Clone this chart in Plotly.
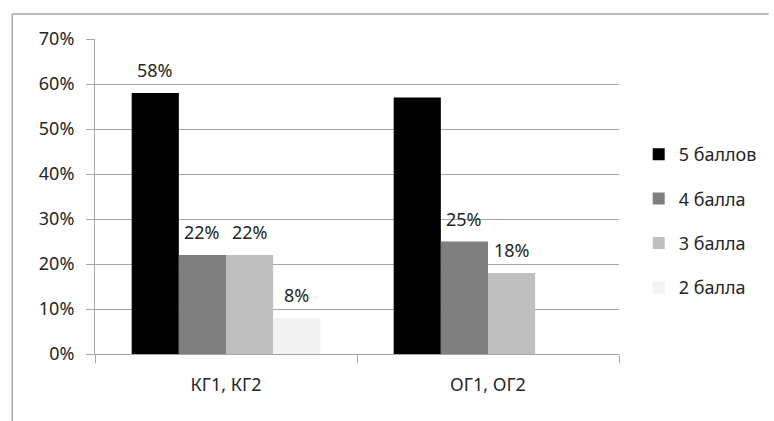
import plotly.graph_objects as go

# Groups and score distribution (share of students)
groups = ["КГ1, КГ2", "ОГ1, ОГ2"]
series_names = ["5 баллов", "4 балла", "3 балла", "2 балла"]
score5 = [0.58, 0.57]
score4 = [0.22, 0.25]
score3 = [0.22, 0.18]
score2 = [0.08, None]
# which bars carry a value label
show5 = [True, False]
show4 = [True, True]
show3 = [True, True]
show2 = [True, False]

y_ticks = [0, 0.1, 0.2, 0.3, 0.4, 0.5, 0.6, 0.7]

colors = ["#000000", "#7f7f7f", "#bfbfbf", "#f2f2f2"]
series = [score5, score4, score3, score2]
shows = [show5, show4, show3, show2]

FONT = "Noto Sans"
FS = 18
TXT = "#262626"
GRID = "#a6a6a6"
BARGAP = 0.28

fig = go.Figure()
for k, (name, vals, col) in enumerate(zip(series_names, series, colors)):
    fig.add_trace(go.Bar(
        x=groups, y=vals, name=name,
        marker=dict(color=col, line=dict(width=0)),
        legendgroup=f"g{k}",
    ))

# value labels above the bars, placed on the bars' own group offsets
n = len(series)
bw = (1 - BARGAP) / n
annotations = []
for k, (vals, show) in enumerate(zip(series, shows)):
    for i, (v, s) in enumerate(zip(vals, show)):
        if v is None or not s:
            continue
        xc = i - (1 - BARGAP) / 2 + (k + 0.5) * bw
        annotations.append(dict(
            x=xc, y=v, xref="x", yref="y",
            text=f"{round(v * 100)}%", showarrow=False,
            yanchor="bottom", yshift=9,
            font=dict(family=FONT, size=FS, color=TXT),
        ))

# outer chart frame (top and left edges)
L, R, T, B = 95, 627, 39, 354
W, H = 774, 421
def px(xp):
    return (xp - L) / (R - L)
def py(yp):
    return (B - yp) / (B - T)

shapes = [
    dict(type="line", xref="paper", yref="paper",
         x0=px(11), x1=px(W + 5), y0=py(14), y1=py(14),
         line=dict(color="#a6a6a6", width=1.5)),
    dict(type="line", xref="paper", yref="paper",
         x0=px(11), x1=px(11), y0=py(14), y1=py(H + 5),
         line=dict(color="#a6a6a6", width=1.5)),
]

fig.update_layout(
    width=W, height=H,
    margin=dict(l=L, r=W - R, t=T, b=H - B, pad=0),
    paper_bgcolor="white", plot_bgcolor="white",
    barmode="group", bargap=BARGAP, bargroupgap=0,
    font=dict(family=FONT, size=FS, color=TXT),
    annotations=annotations,
    shapes=shapes,
    legend=dict(
        x=px(647), xanchor="left", y=py(221), yanchor="middle",
        font=dict(family=FONT, size=FS, color=TXT),
        tracegroupgap=18, traceorder="grouped",
        bgcolor="rgba(0,0,0,0)",
    ),
    showlegend=True,
)
fig.update_xaxes(
    type="category", tickson="boundaries",
    ticks="outside", ticklen=8, tickcolor=GRID,
    showline=True, linecolor=GRID, linewidth=1,
    showgrid=False,
    tickfont=dict(family=FONT, size=FS, color=TXT),
    ticklabelstandoff=14,
)
fig.update_yaxes(
    range=[0, 0.7], tickvals=y_ticks,
    ticktext=[f"{round(t * 100)}%" for t in y_ticks],
    ticks="outside", ticklen=8, tickcolor=GRID,
    showline=True, linecolor=GRID, linewidth=1,
    showgrid=True, gridcolor=GRID, gridwidth=1,
    zeroline=False,
    tickfont=dict(family=FONT, size=FS, color=TXT),
    ticklabelstandoff=8,
)

fig.write_html("out.html")
